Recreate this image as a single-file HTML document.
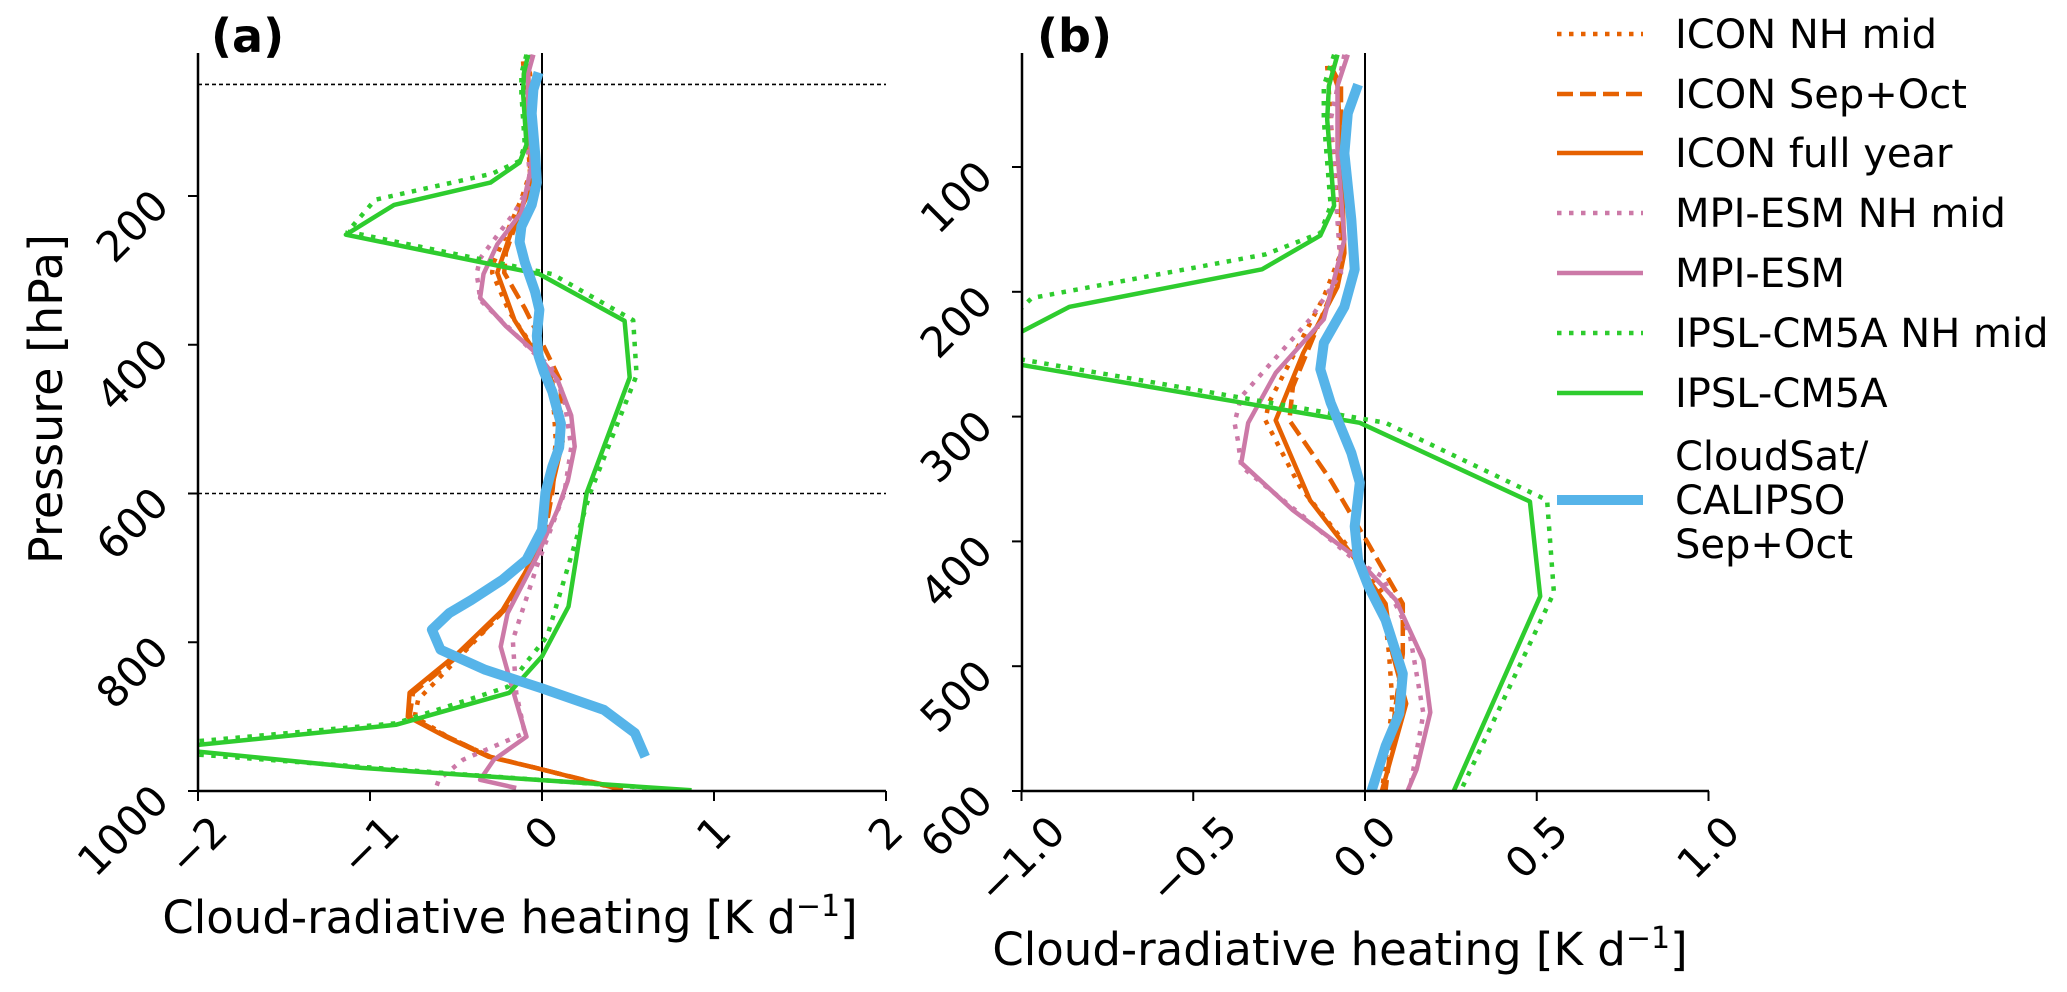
<!DOCTYPE html>
<html><head><meta charset="utf-8"><style>
html,body{margin:0;padding:0;background:#fff;}
svg{display:block;font-family:"DejaVu Sans","Liberation Sans",sans-serif;}
</style></head><body>
<svg id="chart" width="2067" height="992" viewBox="0 0 2067 992" xmlns="http://www.w3.org/2000/svg">
<defs>
<clipPath id="clipA"><rect x="198" y="53" width="688" height="738"/></clipPath>
<clipPath id="clipB"><rect x="1022" y="53" width="687" height="738"/></clipPath>
</defs>
<g id="panelA"></g>
<g id="panelB"></g>
<g id="legend"></g>
</svg>
<script>
// ---- data (pressure hPa, heating K/d) ----
const iconFullP = [19,35,89,169,196,249,303,367,410,450,490,530,599,662,707,757,815,868,900,927,954,971,998];
const iconFullV = [-0.10,-0.08,-0.07,-0.06,-0.08,-0.18,-0.26,-0.16,-0.04,0.06,0.08,0.12,0.05,0,-0.10,-0.23,-0.49,-0.77,-0.78,-0.56,-0.31,0,0.46];
const iconSOP = [19,35,169,196,276,303,351,402,450,490,530,599,662,707,757,815,868,900,927,954,971,998];
const iconSOV = [-0.10,-0.07,-0.07,-0.09,-0.21,-0.22,-0.10,0.01,0.11,0.11,0.09,0.06,0.01,-0.09,-0.22,-0.47,-0.75,-0.77,-0.55,-0.30,0.0,0.47];
const iconNHP = [19,62,169,204,289,303,356,404,441,490,530,599,662,707,757,815,877,900,927,954,971,998];
const iconNHV = [-0.11,-0.10,-0.07,-0.12,-0.28,-0.29,-0.19,-0.05,0.05,0.07,0.08,0.05,0,-0.09,-0.22,-0.46,-0.72,-0.74,-0.55,-0.30,0,0.45];
const mpiP = [10,35,89,158,222,265,305,337,375,412,447,495,537,583,622,685,761,806,864,927,958,985,996];
const mpiV = [-0.05,-0.08,-0.08,-0.06,-0.12,-0.26,-0.34,-0.36,-0.21,-0.03,0.09,0.17,0.19,0.15,0.09,-0.03,-0.20,-0.24,-0.17,-0.09,-0.28,-0.36,-0.15];
const mpiNHP = [10,62,185,222,284,305,319,340,380,415,428,474,538,599,698,797,868,922,958,985,998];
const mpiNHV = [-0.06,-0.10,-0.07,-0.16,-0.36,-0.38,-0.37,-0.36,-0.18,-0.03,0.05,0.13,0.17,0.13,-0.03,-0.17,-0.15,-0.10,-0.46,-0.60,-0.62];
const ipslP = [10,35,62,131,155,182,212,252,305,368,444,599,752,819,868,911,938,942,947,969,999];
const ipslV = [-0.08,-0.105,-0.11,-0.09,-0.13,-0.30,-0.86,-1.14,-0.015,0.48,0.51,0.26,0.154,0,-0.19,-0.85,-2.0,-2.6,-2.0,-1.05,0.87];
const ipslNHP = [10,35,62,131,153,170,205,248,305,367,441,599,792,824,860,909,933,942,951,976,999];
const ipslNHV = [-0.09,-0.12,-0.12,-0.10,-0.13,-0.29,-0.97,-1.13,0.06,0.53,0.55,0.28,0.03,-0.08,-0.20,-0.85,-2.0,-2.5,-2.0,-0.56,0.82];
const obsP = [34,57,89,142,182,212,241,262,289,329,353,388,415,436,463,506,538,564,599,649,689,716,743,761,783,810,837,862,891,922,954];
const obsV = [-0.02,-0.05,-0.06,-0.04,-0.03,-0.06,-0.12,-0.13,-0.10,-0.04,-0.015,-0.03,-0.02,0.01,0.06,0.11,0.10,0.06,0.02,0,-0.09,-0.23,-0.41,-0.54,-0.64,-0.59,-0.33,0,0.36,0.54,0.60];
const seriesLabels = ["ICON NH mid","ICON Sep+Oct","ICON full year","MPI-ESM NH mid","MPI-ESM","IPSL-CM5A NH mid","IPSL-CM5A","CloudSat/|CALIPSO|Sep+Oct"];
const xTicksA = [-2,-1,0,1,2];
const xTickLabelsA = ["\u22122","\u22121","0","1","2"];
const yTicksA = [200,400,600,800,1000];
const xTicksB = [-1,-0.5,0,0.5,1];
const xTickLabelsB = ["\u22121.0","\u22120.5","0.0","0.5","1.0"];
const yTicksB = [100,200,300,400,500,600];
const refLinesA = [50,600];

const NS = "http://www.w3.org/2000/svg";
function mk(tag, attrs, parent){const e=document.createElementNS(NS,tag);for(const k in attrs)e.setAttribute(k,attrs[k]);parent.appendChild(e);return e;}

const axA = {x:v=>542+v*172, y:p=>791-(1000-p)*0.74375, left:198,right:886,g:document.getElementById('panelA'),clip:'clipA'};
const axB = {x:v=>1365+v*343.5, y:p=>791-(600-p)*1.248, left:1022,right:1709,g:document.getElementById('panelB'),clip:'clipB'};

const styles = [
 {P:iconNHP,V:iconNHV,c:"#e66101",w:4.5,d:"4.5 7.5",n:"icon-nh-mid-line"},
 {P:iconSOP,V:iconSOV,c:"#e66101",w:4.5,d:"16 7",n:"icon-sep-oct-line"},
 {P:iconFullP,V:iconFullV,c:"#e66101",w:4.5,d:"",n:"icon-full-year-line"},
 {P:mpiNHP,V:mpiNHV,c:"#cc79a7",w:4.5,d:"4.5 7.5",n:"mpi-esm-nh-mid-line"},
 {P:mpiP,V:mpiV,c:"#cc79a7",w:4.5,d:"",n:"mpi-esm-line"},
 {P:ipslNHP,V:ipslNHV,c:"#2ecc2e",w:4.5,d:"4.5 7.5",n:"ipsl-cm5a-nh-mid-line"},
 {P:ipslP,V:ipslV,c:"#2ecc2e",w:4.5,d:"",n:"ipsl-cm5a-line"},
 {P:obsP,V:obsV,c:"#56b4e9",w:10,d:"",n:"cloudsat-calipso-line"}
];

function drawPanel(ax, xt, xl, yt, suffix){
  const g = ax.g;
  if(suffix==='a'){
    refLinesA.forEach(p=>{
      const l=mk('line',{x1:ax.left,x2:ax.right,y1:ax.y(p),y2:ax.y(p),stroke:'#000','stroke-width':1.6,'stroke-dasharray':'4 3'},g);
      
      
    });
  }
  const z=mk('line',{x1:ax.x(0),x2:ax.x(0),y1:53,y2:791,stroke:'#000','stroke-width':2},g);
  
  
  const sg=mk('g',{'clip-path':'url(#'+ax.clip+')'},g);
  styles.forEach(s=>{
    const pts=s.P.map((p,i)=>ax.x(s.V[i]).toFixed(1)+','+ax.y(p).toFixed(1)).join(' ');
    const pl=mk('polyline',{points:pts,fill:'none',stroke:s.c,'stroke-width':s.w,'stroke-linejoin':'round'},sg);
    if(s.d)pl.setAttribute('stroke-dasharray',s.d);
    
    
  });
  const ls=mk('line',{x1:ax.left,x2:ax.left,y1:53,y2:792,stroke:'#000','stroke-width':2.5},g);
  
  
  const bs=mk('line',{x1:ax.left-1,x2:ax.right,y1:791,y2:791,stroke:'#000','stroke-width':2.5},g);
  
  
  const fs=42;
  xt.forEach((v,i)=>{
    const x=ax.x(v);
    mk('line',{x1:x,x2:x,y1:791,y2:801,stroke:'#000','stroke-width':2},g);
    let w=0;for(const ch of xl[i])w+=(ch==='\u2212'?0.838:(ch==='.'?0.318:0.636))*fs;
    const x0=x+(0.707*w+20)/2;
    const t=mk('text',{x:x0,y:834,'font-size':fs,'text-anchor':'end',transform:'rotate(-45 '+x0+' 834)'},g);
    t.textContent=xl[i];
    
    
  });
  yt.forEach(p=>{
    const y=ax.y(p);
    mk('line',{x1:ax.left-10,x2:ax.left,y1:y,y2:y,stroke:'#000','stroke-width':2},g);
    const x0=ax.left-27, y0=y+12;
    const t=mk('text',{x:x0,y:y0,'font-size':fs,'text-anchor':'end',transform:'rotate(-45 '+x0+' '+y0+')'},g);
    t.textContent=String(p);
    
    
  });
}
drawPanel(axA,xTicksA,xTickLabelsA,yTicksA,'a');
drawPanel(axB,xTicksB,xTickLabelsB,yTicksB,'b');

const svg=document.getElementById('chart');
function txt(s,attrs,name){const t=mk('text',attrs,svg);t.innerHTML=s;return t;}
txt('(a)',{x:211,y:52,'font-size':46,'font-weight':'bold'},'panel-a-label');
txt('(b)',{x:1037,y:52,'font-size':46,'font-weight':'bold'},'panel-b-label');
txt('Pressure [hPa]',{x:0,y:0,'font-size':46,'text-anchor':'middle',transform:'translate(62 399) rotate(-90)'},'y-axis-title');
txt('Cloud-radiative heating [K d<tspan dy="-17" font-size="30">\u22121</tspan><tspan dy="17">]</tspan>',{x:510,y:933,'font-size':45,'text-anchor':'middle'},'x-axis-title-a');
txt('Cloud-radiative heating [K d<tspan dy="-17" font-size="30">\u22121</tspan><tspan dy="17">]</tspan>',{x:1340,y:965,'font-size':45,'text-anchor':'middle'},'x-axis-title-b');

const lg=document.getElementById('legend');
const rowY=[34,94,153,213,273,333,393,500];
styles.forEach((s,i)=>{
  const y=rowY[i];
  const l=mk('line',{x1:1557,x2:1643,y1:y,y2:y,stroke:s.c,'stroke-width':s.w},lg);
  if(s.d)l.setAttribute('stroke-dasharray',s.d);
  
  
  const parts=seriesLabels[i].split('|');
  parts.forEach((tx,j)=>{
    const yy = parts.length===1 ? y+14 : y+14+(j-1)*44;
    const t=mk('text',{x:1675,y:yy,'font-size':40},lg);
    t.textContent=tx;
    
    
  });
});
</script>
</body></html>
